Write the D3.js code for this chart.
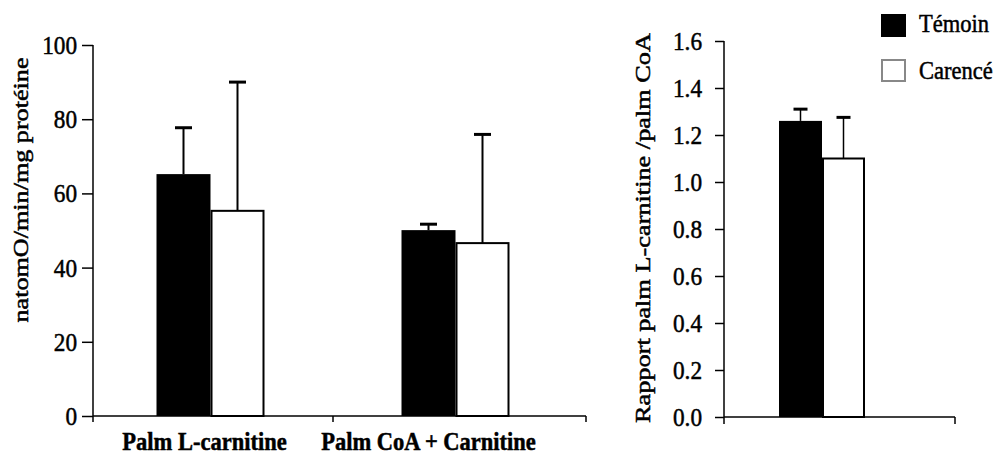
<!DOCTYPE html>
<html>
<head>
<meta charset="utf-8">
<script src="https://cdn.jsdelivr.net/npm/d3@7"></script>
<style>
  body { margin: 0; background: #fff; }
  svg text { stroke: #000; stroke-width: 0.5px; }
</style>
</head>
<body>
<div id="chart"></div>
<script>
// data
var groups = ['Palm L-carnitine', 'Palm CoA + Carnitine'],
    series = ['Témoin', 'Carencé'],
    oxyTemoin = [65.2, 50.1],
    oxyTemoinSd = [12.5, 1.6],
    oxyCarence = [55.3, 46.6],
    oxyCarenceSd = [34.7, 29.3],
    ratioValues = [1.26, 1.10],
    ratioSd = [0.05, 0.175],
    leftTicks = [0, 20, 40, 60, 80, 100],
    rightTicks = [0, 0.2, 0.4, 0.6, 0.8, 1.0, 1.2, 1.4, 1.6]

var width = 1000, height = 454,
    serif = '"Liberation Serif", "Times New Roman", serif',
    colors = { fill: ['#000', '#fff'], stroke: '#000', legendStroke: '#888' }

var svg = d3.select('#chart').append('svg')
    .attr('width', width)
    .attr('height', height)
    .style('font-family', serif)

// squeeze text horizontally a little, the source font is narrow
function condense(sel, k) {
    sel.each(function() {
        var w = this.getComputedTextLength()
        d3.select(this).attr('textLength', w * k).attr('lengthAdjust', 'spacingAndGlyphs')
    })
}

function errBars(g, bars, y, capW, sw) {
    g.selectAll('line.stem').data(bars).enter().append('line')
        .attr('x1', d => d.x).attr('x2', d => d.x)
        .attr('y1', d => y(d.v)).attr('y2', d => y(d.v + d.sd))
        .attr('stroke', '#000').attr('stroke-width', sw)
    g.selectAll('line.cap').data(bars).enter().append('line')
        .attr('x1', d => d.x - capW / 2).attr('x2', d => d.x + capW / 2)
        .attr('y1', d => y(d.v + d.sd)).attr('y2', d => y(d.v + d.sd))
        .attr('stroke', '#000').attr('stroke-width', 3)
}

function styleAxis(ax) {
    ax.attr('font-family', null).style('font-family', serif)
    ax.select('.domain').remove()
    ax.selectAll('line').attr('stroke-width', 1.5)
    ax.selectAll('text').style('font-family', serif).attr('font-size', 25).attr('dy', '0.34em')
        .call(condense, 0.93)
}

// ---------- left chart ----------
var lx0 = 93, lxEnd = 586
var yL = d3.scaleLinear().domain([0, 100]).range([416, 45])
var xL = d3.scaleBand().domain(groups).range([88, 578])
var xLs = d3.scaleBand().domain(series).range([0, 108])

var left = svg.append('g')

var leftBars = []
groups.forEach(function(gname, i) {
    var x0 = xL(gname) + xL.bandwidth() / 2 - 54
    leftBars.push({ s: 0, x0: x0 + xLs(series[0]), v: oxyTemoin[i], sd: oxyTemoinSd[i] })
    leftBars.push({ s: 1, x0: x0 + xLs(series[1]), v: oxyCarence[i], sd: oxyCarenceSd[i] })
})
leftBars.forEach(d => { d.x = d.x0 + xLs.bandwidth() / 2 })

errBars(left, leftBars, yL, 17, 2)

left.selectAll('rect').data(leftBars).enter().append('rect')
    .attr('x', d => d.s ? d.x0 + 1 : d.x0)
    .attr('y', d => yL(d.v))
    .attr('width', d => d.s ? xLs.bandwidth() - 2 : xLs.bandwidth())
    .attr('height', d => yL(0) - yL(d.v))
    .attr('fill', d => colors.fill[d.s])
    .attr('stroke', d => d.s ? colors.stroke : 'none')
    .attr('stroke-width', 2)

// y axis
var axL = left.append('g').attr('transform', 'translate(' + lx0 + ',0)')
    .call(d3.axisLeft(yL).tickValues(leftTicks).tickSize(11).tickPadding(5).tickFormat(d3.format('d')))
styleAxis(axL)
left.append('line').attr('x1', lx0).attr('x2', lx0).attr('y1', yL(100)).attr('y2', yL(0) + 6)
    .attr('stroke', '#000').attr('stroke-width', 1.5)

// x axis
left.append('line').attr('x1', lx0).attr('x2', lxEnd).attr('y1', yL(0)).attr('y2', yL(0))
    .attr('stroke', '#000').attr('stroke-width', 1.5)
left.selectAll('line.xt').data([xL(groups[1]), lxEnd]).enter().append('line')
    .attr('x1', d => d).attr('x2', d => d).attr('y1', yL(0)).attr('y2', yL(0) + 6)
    .attr('stroke', '#000').attr('stroke-width', 1.5)

var labelNudge = [-6, -27]
left.selectAll('text.cat').data(groups).enter().append('text')
    .attr('x', (d, i) => xL(d) + xL.bandwidth() / 2 + labelNudge[i])
    .attr('y', 450)
    .attr('text-anchor', 'middle')
    .attr('font-size', 25)
    .attr('font-weight', 'bold')
    .text(d => d)
    .call(condense, 0.9)

left.append('text')
    .attr('transform', 'translate(28,' + 190 + ') rotate(-90)')
    .attr('text-anchor', 'middle')
    .attr('font-size', 21)
    .attr('textLength', 265).attr('lengthAdjust', 'spacingAndGlyphs')
    .text('natomO/min/mg protéine')

// ---------- right chart ----------
var rx0 = 724, rxEnd = 955
var yR = d3.scaleLinear().domain([0, 1.6]).range([417, 41])
var xR = d3.scaleBand().domain(series).range([779, 865])

var right = svg.append('g')
var rightBars = series.map((s, i) => ({
    s: i, x0: xR(s), x: xR(s) + xR.bandwidth() / 2, v: ratioValues[i], sd: ratioSd[i]
}))

errBars(right, rightBars, yR, 14, 1.5)

right.selectAll('rect').data(rightBars).enter().append('rect')
    .attr('x', d => d.s ? d.x0 + 1 : d.x0)
    .attr('y', d => yR(d.v))
    .attr('width', d => d.s ? xR.bandwidth() - 2 : xR.bandwidth())
    .attr('height', d => yR(0) - yR(d.v))
    .attr('fill', d => colors.fill[d.s])
    .attr('stroke', d => d.s ? colors.stroke : 'none')
    .attr('stroke-width', 2)

var axR = right.append('g').attr('transform', 'translate(' + rx0 + ',0)')
    .call(d3.axisLeft(yR).tickValues(rightTicks).tickSize(9).tickPadding(13).tickFormat(d3.format('.1f')))
styleAxis(axR)
right.append('line').attr('x1', rx0).attr('x2', rx0).attr('y1', yR(1.6)).attr('y2', yR(0) + 7)
    .attr('stroke', '#000').attr('stroke-width', 1.5)
right.append('line').attr('x1', rx0).attr('x2', rxEnd).attr('y1', yR(0)).attr('y2', yR(0))
    .attr('stroke', '#000').attr('stroke-width', 1.5)
right.append('line').attr('x1', rxEnd).attr('x2', rxEnd).attr('y1', yR(0)).attr('y2', yR(0) + 7)
    .attr('stroke', '#000').attr('stroke-width', 1.5)

right.append('text')
    .attr('transform', 'translate(650,' + 228 + ') rotate(-90)')
    .attr('text-anchor', 'middle')
    .attr('font-size', 21)
    .attr('textLength', 390).attr('lengthAdjust', 'spacingAndGlyphs')
    .text('Rapport palm L-carnitine /palm CoA')

// legend
var legend = svg.append('g').attr('transform', 'translate(881,14)')
var li = legend.selectAll('g').data(series).enter().append('g')
    .attr('transform', (d, i) => 'translate(0,' + i * 45 + ')')
li.append('rect')
    .attr('x', (d, i) => i ? 1 : 0).attr('y', (d, i) => i ? 1 : 0)
    .attr('width', (d, i) => i ? 23 : 25).attr('height', (d, i) => i ? 21 : 23)
    .attr('fill', (d, i) => colors.fill[i])
    .attr('stroke', (d, i) => i ? colors.legendStroke : 'none')
    .attr('stroke-width', 2)
li.append('text')
    .attr('x', 38).attr('y', (d, i) => i ? 20 : 18)
    .attr('font-size', 25)
    .text(d => d)
    .call(condense, 0.9)
</script>
</body>
</html>
